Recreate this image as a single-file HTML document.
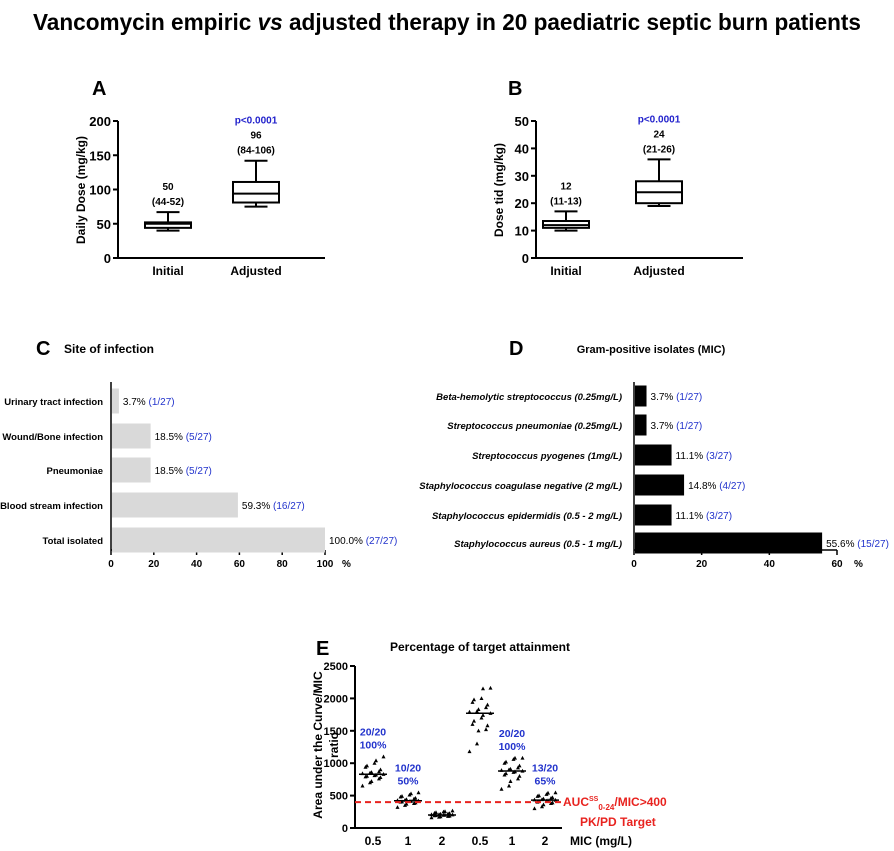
<!DOCTYPE html>
<html><head><meta charset="utf-8"><style>
body{margin:0;background:#fff}
svg{display:block;font-family:"Liberation Sans",sans-serif}
.b{font-weight:bold}
</style></head><body>
<svg id="s" width="894" height="851" viewBox="0 0 894 851">
<text x="447" y="30" text-anchor="middle" class="b" font-size="23" textLength="828" lengthAdjust="spacingAndGlyphs">Vancomycin empiric <tspan font-style="italic">vs</tspan> adjusted therapy in 20 paediatric septic burn patients</text>
<g id="gA"></g>
<g id="gB"></g>
<g id="gC"></g>
<g id="gD"></g>
<g id="gE"></g>
</svg>
<script>
// Panel A data (min,q1,median,q3,max)
const boxCats = ["Initial","Adjusted"];
const boxA = [[40,44,50,52,67],[75,81,94,111,142]];
const boxALabels = [["50","(44-52)"],["96","(84-106)"]];
const ticksA = [0,50,100,150,200];
// Panel B
const boxB = [[10,11,12,13.5,17],[19,20,24,28,36]];
const boxBLabels = [["12","(11-13)"],["24","(21-26)"]];
const ticksB = [0,10,20,30,40,50];
// Panel C
const siteCats = ["Urinary tract infection","Wound/Bone infection","Pneumoniae","Blood stream infection","Total isolated"];
const siteVals = [3.7,18.5,18.5,59.3,100];
const siteCounts = ["(1/27)","(5/27)","(5/27)","(16/27)","(27/27)"];
const ticksC = [0,20,40,60,80,100];
// Panel D
const isoCats = ["Beta-hemolytic streptococcus (0.25mg/L)","Streptococcus pneumoniae (0.25mg/L)","Streptococcus pyogenes (1mg/L)","Staphylococcus  coagulase negative (2 mg/L)","Staphylococcus  epidermidis (0.5 - 2 mg/L)","Staphylococcus aureus (0.5 - 1 mg/L)"];
const isoVals = [3.7,3.7,11.1,14.8,11.1,55.6];
const isoCounts = ["(1/27)","(1/27)","(3/27)","(4/27)","(3/27)","(15/27)"];
const ticksD = [0,20,40,60];
// Panel E
const micCats = ["0.5","1","2","0.5","1","2"];
const aucG1 = [650,700,720,760,780,790,800,810,820,830,840,850,860,870,900,940,960,1000,1040,1100];
const aucG2 = [320,350,370,380,390,400,405,410,415,420,425,430,440,450,460,480,490,510,530,545];
const aucG3 = [160,170,175,180,185,190,195,198,200,205,208,210,215,220,225,230,240,250,255,265];
const aucG4 = [1180,1300,1500,1520,1580,1600,1650,1700,1740,1770,1790,1800,1830,1860,1900,1940,1980,2000,2150,2160];
const aucG5 = [600,650,720,760,800,820,840,860,870,880,890,900,910,930,960,1000,1020,1060,1080,1080];
const aucG6 = [300,330,360,380,390,400,410,420,425,430,435,440,450,460,470,490,500,520,540,545];
const aucMedians = [830,420,200,1770,880,430];
const ticksE = [0,500,1000,1500,2000,2500];
const attainCats = [["20/20","100%"],["10/20","50%"],null,null,["20/20","100%"],["13/20","65%"]];

const NS="http://www.w3.org/2000/svg";
function mk(p,t,a,txt){const e=document.createElementNS(NS,t);for(const k in a)e.setAttribute(k,a[k]);if(txt!=null)e.textContent=txt;p.appendChild(e);return e;}
function lin(d0,d1,r0,r1){return v=>r0+(v-d0)/(d1-d0)*(r1-r0);}

function boxPanel(g,letter,lx,ax,data,labels,ticks,max,ylab,xs){
  const y=lin(0,max,258,121);
  let e=mk(g,'text',{x:lx,y:95,'font-size':20,'font-weight':'bold'},letter);
  
  e=mk(g,'line',{x1:ax,y1:121,x2:ax,y2:258,stroke:'#000','stroke-width':2});
  
  e=mk(g,'line',{x1:ax,y1:258,x2:ax+207,y2:258,stroke:'#000','stroke-width':2});
  
  ticks.forEach(t=>{mk(g,'line',{x1:ax-5,x2:ax,y1:y(t),y2:y(t),stroke:'#000','stroke-width':2});
    e=mk(g,'text',{x:ax-7,y:y(t)+5,'text-anchor':'end','font-size':13,'font-weight':'bold'},t);
    });
  e=mk(g,'text',{transform:`translate(${ax-33},190) rotate(-90)`,'text-anchor':'middle','font-size':12,'font-weight':'bold'},ylab);
  
  data.forEach((d,i)=>{const cx=xs[i],w=46;
    const bg=mk(g,'g',{});
    const st={stroke:'#000','stroke-width':2,fill:'none'};
    mk(bg,'line',Object.assign({x1:cx,x2:cx,y1:y(d[0]),y2:y(d[1])},st));
    mk(bg,'line',Object.assign({x1:cx,x2:cx,y1:y(d[3]),y2:y(d[4])},st));
    mk(bg,'line',Object.assign({x1:cx-w/4,x2:cx+w/4,y1:y(d[0]),y2:y(d[0])},st));
    mk(bg,'line',Object.assign({x1:cx-w/4,x2:cx+w/4,y1:y(d[4]),y2:y(d[4])},st));
    mk(bg,'rect',{x:cx-w/2,y:y(d[3]),width:w,height:y(d[1])-y(d[3]),fill:'#fff',stroke:'#000','stroke-width':2});
    mk(bg,'line',Object.assign({x1:cx-w/2,x2:cx+w/2,y1:y(d[2]),y2:y(d[2])},st));
    const top=y(d[4]);
    e=mk(g,'text',{x:cx,y:top-22,'text-anchor':'middle','font-size':10,'font-weight':'bold'},labels[i][0]);
    
    e=mk(g,'text',{x:cx,y:top-7,'text-anchor':'middle','font-size':10,'font-weight':'bold'},labels[i][1]);
    
    if(i==1){e=mk(g,'text',{x:cx,y:top-37,'text-anchor':'middle','font-size':10,'font-weight':'bold',fill:'#2222cc'},'p<0.0001');
      }
    e=mk(g,'text',{x:cx,y:275,'text-anchor':'middle','font-size':12,'font-weight':'bold'},boxCats[i]);
    
  });
}
boxPanel(document.getElementById('gA'),'A',92,118,boxA,boxALabels,ticksA,200,'Daily Dose (mg/kg)',[168,256]);
boxPanel(document.getElementById('gB'),'B',508,536,boxB,boxBLabels,ticksB,50,'Dose tid (mg/kg)',[566,659]);

function barPanel(g,x0,x1,max,ticks,cats,vals,counts,ys,h,fill,italic,labX){
  const x=lin(0,max,x0,x1);let e;
  e=mk(g,'line',{x1:x0,y1:382,x2:x0,y2:550,stroke:'#000','stroke-width':1.5});
  
  e=mk(g,'line',{x1:x0,y1:550,x2:x1,y2:550,stroke:'#000','stroke-width':1.5});
  
  ticks.forEach(t=>{mk(g,'line',{x1:x(t),x2:x(t),y1:550,y2:555,stroke:'#000','stroke-width':1.5});
    e=mk(g,'text',{x:x(t),y:567,'text-anchor':'middle','font-size':10,'font-weight':'bold'},t);
    });
  e=mk(g,'text',{x:x1+17,y:567,'font-size':10,'font-weight':'bold'},'%');
  
  cats.forEach((c,i)=>{const cy=ys[i];
    e=mk(g,'rect',{x:x0+1,y:cy-h/2,width:x(vals[i])-x0-1,height:h,fill:fill});
    
    const t=mk(g,'text',{x:x(vals[i])+4,y:cy+4,'font-size':10});
    mk(t,'tspan',{},vals[i].toFixed(1)+'% ');mk(t,'tspan',{fill:'#2233cc'},counts[i]);
    
    const attrs={x:labX,y:cy+4,'text-anchor':'end','font-weight':'bold'};
    if(italic){attrs['font-size']=9.5;attrs['font-style']='italic';}
    else{attrs['font-size']=9.5;attrs['font-family']='"Liberation Sans Narrow","Liberation Sans",sans-serif';}
    e=mk(g,'text',attrs,c);
    
  });
}
const gC=document.getElementById('gC');
let e=mk(gC,'text',{x:36,y:355,'font-size':20,'font-weight':'bold'},'C');
e=mk(gC,'text',{x:64,y:353,'font-size':12,'font-weight':'bold'},'Site of infection');
barPanel(gC,111,325,100,ticksC,siteCats,siteVals,siteCounts,[401,436,470,505,540],25,'#d9d9d9',false,103);
const gD=document.getElementById('gD');
e=mk(gD,'text',{x:509,y:355,'font-size':20,'font-weight':'bold'},'D');
e=mk(gD,'text',{x:651,y:353,'text-anchor':'middle','font-size':11,'font-weight':'bold'},'Gram-positive isolates (MIC)');
barPanel(gD,634,837,60,ticksD,isoCats,isoVals,isoCounts,[396,425,455,485,515,543],21,'#000',true,622);

// Panel E
const gE=document.getElementById('gE');
const yE=lin(0,2500,828,666);
const xE=[373,408,442,480,512,545];
e=mk(gE,'text',{x:316,y:655,'font-size':20,'font-weight':'bold'},'E');
e=mk(gE,'text',{x:480,y:651,'text-anchor':'middle','font-size':12,'font-weight':'bold'},'Percentage of target attainment');
e=mk(gE,'line',{x1:355,y1:666,x2:355,y2:828,stroke:'#000','stroke-width':2});
e=mk(gE,'line',{x1:355,y1:828,x2:562,y2:828,stroke:'#000','stroke-width':2});
ticksE.forEach(t=>{mk(gE,'line',{x1:350,x2:355,y1:yE(t),y2:yE(t),stroke:'#000','stroke-width':2});
  e=mk(gE,'text',{x:348,y:yE(t)+4,'text-anchor':'end','font-size':11,'font-weight':'bold'},t);
  });
e=mk(gE,'text',{transform:'translate(322,745) rotate(-90)','text-anchor':'middle','font-size':12,'font-weight':'bold'},'Area under the Curve/MIC');
e=mk(gE,'text',{transform:'translate(338,745) rotate(-90)','text-anchor':'middle','font-size':12,'font-weight':'bold'},'ratio');
const groups=[aucG1,aucG2,aucG3,aucG4,aucG5,aucG6];
groups.forEach((gr,i)=>{
  const sg=mk(gE,'g',{});
  gr.forEach((v,j)=>{const off=((j%5)-2)*4.5+((j%2)?1.5:-1.5);const px=xE[i]+off,py=yE(v);
    e=mk(sg,'path',{d:`M${px},${py-2.2}L${px+2},${py+1.6}L${px-2},${py+1.6}Z`,fill:'#000'});
    });
  e=mk(gE,'line',{x1:xE[i]-14,x2:xE[i]+14,y1:yE(aucMedians[i]),y2:yE(aucMedians[i]),stroke:'#000','stroke-width':1.5});
  
  e=mk(gE,'text',{x:xE[i],y:845,'text-anchor':'middle','font-size':12,'font-weight':'bold'},micCats[i]);
  
  if(attainCats[i]){const topv=Math.max(...gr);const ty=yE(topv)-21;
    e=mk(gE,'text',{x:xE[i],y:ty,'text-anchor':'middle','font-size':10.5,'font-weight':'bold',fill:'#2233cc'},attainCats[i][0]);
    
    e=mk(gE,'text',{x:xE[i],y:ty+13,'text-anchor':'middle','font-size':10.5,'font-weight':'bold',fill:'#2233cc'},attainCats[i][1]);
    }
});
e=mk(gE,'line',{x1:355,x2:562,y1:yE(400),y2:yE(400),stroke:'#e8231f','stroke-width':2,'stroke-dasharray':'6,4'});

const tt=mk(gE,'text',{x:563,y:yE(400)+4,'font-size':12,'font-weight':'bold',fill:'#e8231f'});
mk(tt,'tspan',{},'AUC');mk(tt,'tspan',{'font-size':7,dy:-5},'SS');mk(tt,'tspan',{'font-size':8,dy:9},'0-24');mk(tt,'tspan',{dy:-4},'/MIC>400');

e=mk(gE,'text',{x:580,y:826,'font-size':12,'font-weight':'bold',fill:'#e8231f'},'PK/PD Target');
e=mk(gE,'text',{x:570,y:845,'font-size':12,'font-weight':'bold'},'MIC (mg/L)');
</script>
</body></html>
